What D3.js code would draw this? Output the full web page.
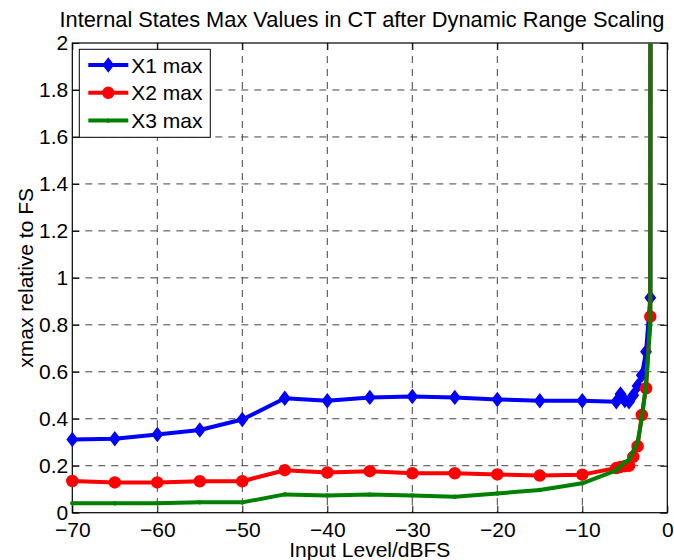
<!DOCTYPE html>
<html>
<head>
<meta charset="utf-8">
<script src="https://cdnjs.cloudflare.com/ajax/libs/d3/7.8.5/d3.min.js"></script>
<style>
    body { margin: 0; background: #fff; }
    text { font-family: "Liberation Sans", Arial, sans-serif; fill: #000; }
</style>
</head>
<body>
<script>
//Input levels (dBFS), last one is off the top of the chart
let inputLevels = [-70, -65, -60, -55, -50, -45, -40, -35, -30, -25, -20, -15, -10,
    -6, -5.5, -5, -4.5, -4, -3.5, -3, -2.5, -2, -1.9];

let x1Max = [0.312, 0.315, 0.333, 0.352, 0.397, 0.487, 0.477, 0.491, 0.495, 0.491, 0.482, 0.477, 0.477,
    0.472, 0.505, 0.478, 0.472, 0.50, 0.54, 0.585, 0.685, 0.915, 8];
let x2Max = [0.135, 0.129, 0.129, 0.134, 0.134, 0.181, 0.171, 0.177, 0.168, 0.168, 0.163, 0.158, 0.162,
    0.190, 0.195, 0.198, 0.200, 0.238, 0.283, 0.416, 0.530, 0.835, 8];
let x3Max = [0.040, 0.040, 0.040, 0.044, 0.044, 0.078, 0.073, 0.077, 0.073, 0.068, 0.082, 0.097, 0.125,
    0.180, 0.200, 0.215, 0.225, 0.262, 0.300, 0.400, 0.550, 0.800, 8];

let seriesNames = ["X1 max", "X2 max", "X3 max"];
let seriesColors = ["#0000ff", "#ff0000", "#008000"];
let seriesMarkers = ["diamond", "circle", "dot"];

let xTicks = [-70, -60, -50, -40, -30, -20, -10, 0];
let yTicks = [0, 0.2, 0.4, 0.6, 0.8, 1, 1.2, 1.4, 1.6, 1.8, 2];

//SVG size and plot box
let fullSVGWidth = 674;
let fullSVGHeight = 560;
let margins = { top: 43, right: 6.7, bottom: 47.3, left: 72.3 };
let chartWidth = fullSVGWidth - margins.left - margins.right;
let chartHeight = fullSVGHeight - margins.top - margins.bottom;

let xScale = d3.scaleLinear().domain([-70, 0]).range([0, chartWidth]);
let yScale = d3.scaleLinear().domain([0, 2]).range([chartHeight, 0]);

let series = [x1Max, x2Max, x3Max].map(function(values, i) {
    return {
        name: seriesNames[i],
        color: seriesColors[i],
        marker: seriesMarkers[i],
        points: inputLevels.map(function(lv, j) { return { x: lv, y: values[j] }; })
    };
});

let svg = d3.select("body")
    .append("svg")
    .attr("width", fullSVGWidth)
    .attr("height", fullSVGHeight);

let g = svg.append("g")
    .attr("transform", "translate(" + margins.left + "," + margins.top + ")");

svg.append("defs").append("clipPath")
    .attr("id", "plot-clip")
    .append("rect")
    .attr("x", -20)
    .attr("y", 0)
    .attr("width", chartWidth + 40)
    .attr("height", chartHeight + 20);

//dashed grid
g.append("g")
    .selectAll("line")
    .data(xTicks.slice(1, -1))
    .enter()
    .append("line")
    .attr("x1", function(d) { return xScale(d); })
    .attr("x2", function(d) { return xScale(d); })
    .attr("y1", 0)
    .attr("y2", chartHeight)
    .style("stroke", "#444")
    .style("stroke-dasharray", "7,6");

g.append("g")
    .selectAll("line")
    .data(yTicks.slice(1, -1))
    .enter()
    .append("line")
    .attr("x1", 0)
    .attr("x2", chartWidth)
    .attr("y1", function(d) { return yScale(d); })
    .attr("y2", function(d) { return yScale(d); })
    .style("stroke", "#444")
    .style("stroke-dasharray", "7,6");

//axes with inward ticks on all four sides
let xAxis = d3.axisBottom(xScale).tickValues(xTicks).tickSizeInner(-7).tickSizeOuter(0).tickPadding(9);
let yAxis = d3.axisLeft(yScale).tickValues(yTicks).tickSizeInner(-7).tickSizeOuter(0).tickPadding(4)
    .tickFormat(function(d) { return d; });

g.append("g")
    .attr("transform", "translate(0," + chartHeight + ")")
    .call(xAxis);
g.append("g").call(yAxis);
g.append("g")
    .call(d3.axisTop(xScale).tickValues(xTicks).tickSizeInner(-7).tickSizeOuter(0).tickFormat(""));
g.append("g")
    .attr("transform", "translate(" + chartWidth + ",0)")
    .call(d3.axisRight(yScale).tickValues(yTicks).tickSizeInner(-7).tickSizeOuter(0).tickFormat(""));

g.selectAll(".domain").remove();
g.selectAll(".tick line").style("stroke", "#000");
g.selectAll(".tick text")
    .style("font-size", "21px")
    .style("font-family", "'Liberation Sans', Arial, sans-serif")
    .style("fill", "#000");

g.append("rect")
    .attr("width", chartWidth)
    .attr("height", chartHeight)
    .style("fill", "none")
    .style("stroke", "#000")
    .style("stroke-width", 1.2);

//lines and markers
let line = d3.line()
    .x(function(d) { return xScale(d.x); })
    .y(function(d) { return yScale(d.y); });

let diamond = "M0,-6.5L5,0L0,6.5L-5,0Z";

function drawMarker(sel, s) {
    if (s.marker === "diamond") {
        sel.append("path").attr("d", diamond)
            .style("fill", s.color).style("stroke", s.color).style("stroke-width", 1.5);
    } else if (s.marker === "circle") {
        sel.append("circle").attr("r", 5.5)
            .style("fill", s.color).style("stroke", s.color).style("stroke-width", 1.5);
    } else {
        sel.append("circle").attr("r", 2.2).style("fill", s.color);
    }
}

series.forEach(function(s) {
    let sg = g.append("g");
    sg.append("path")
        .datum(s.points)
        .attr("clip-path", "url(#plot-clip)")
        .attr("d", line)
        .style("fill", "none")
        .style("stroke", s.color)
        .style("stroke-width", 4)
        .style("stroke-linejoin", "round");

    let marks = sg.selectAll("g.mark")
        .data(s.points.filter(function(d) { return d.y <= 2; }))
        .enter()
        .append("g")
        .attr("class", "mark")
        .attr("transform", function(d) { return "translate(" + xScale(d.x) + "," + yScale(d.y) + ")"; });
    drawMarker(marks, s);
});

//legend
let legend = g.append("g").attr("transform", "translate(7,6.3)");
legend.append("rect")
    .attr("width", 131)
    .attr("height", 88)
    .style("fill", "#fff")
    .style("stroke", "#000");

series.forEach(function(s, i) {
    let row = legend.append("g").attr("transform", "translate(0," + (15.7 + i * 27.8) + ")");
    row.append("line")
        .attr("x1", 9).attr("x2", 49)
        .style("stroke", s.color)
        .style("stroke-width", 4);
    drawMarker(row.append("g").attr("transform", "translate(29,0)"), s);
    row.append("text")
        .attr("x", 52)
        .attr("dy", "0.36em")
        .style("font-size", "21px")
        .text(s.name);
});

//title and axis labels
svg.append("text")
    .attr("x", 362)
    .attr("y", 27)
    .attr("text-anchor", "middle")
    .style("font-size", "21.8px")
    .text("Internal States Max Values in CT after Dynamic Range Scaling");

svg.append("text")
    .attr("x", margins.left + chartWidth / 2)
    .attr("y", 557)
    .attr("text-anchor", "middle")
    .style("font-size", "21px")
    .text("Input Level/dBFS");

svg.append("text")
    .attr("transform", "translate(33," + (margins.top + chartHeight / 2) + ") rotate(-90)")
    .attr("text-anchor", "middle")
    .style("font-size", "21px")
    .text("xmax relative to FS");
</script>
</body>
</html>
